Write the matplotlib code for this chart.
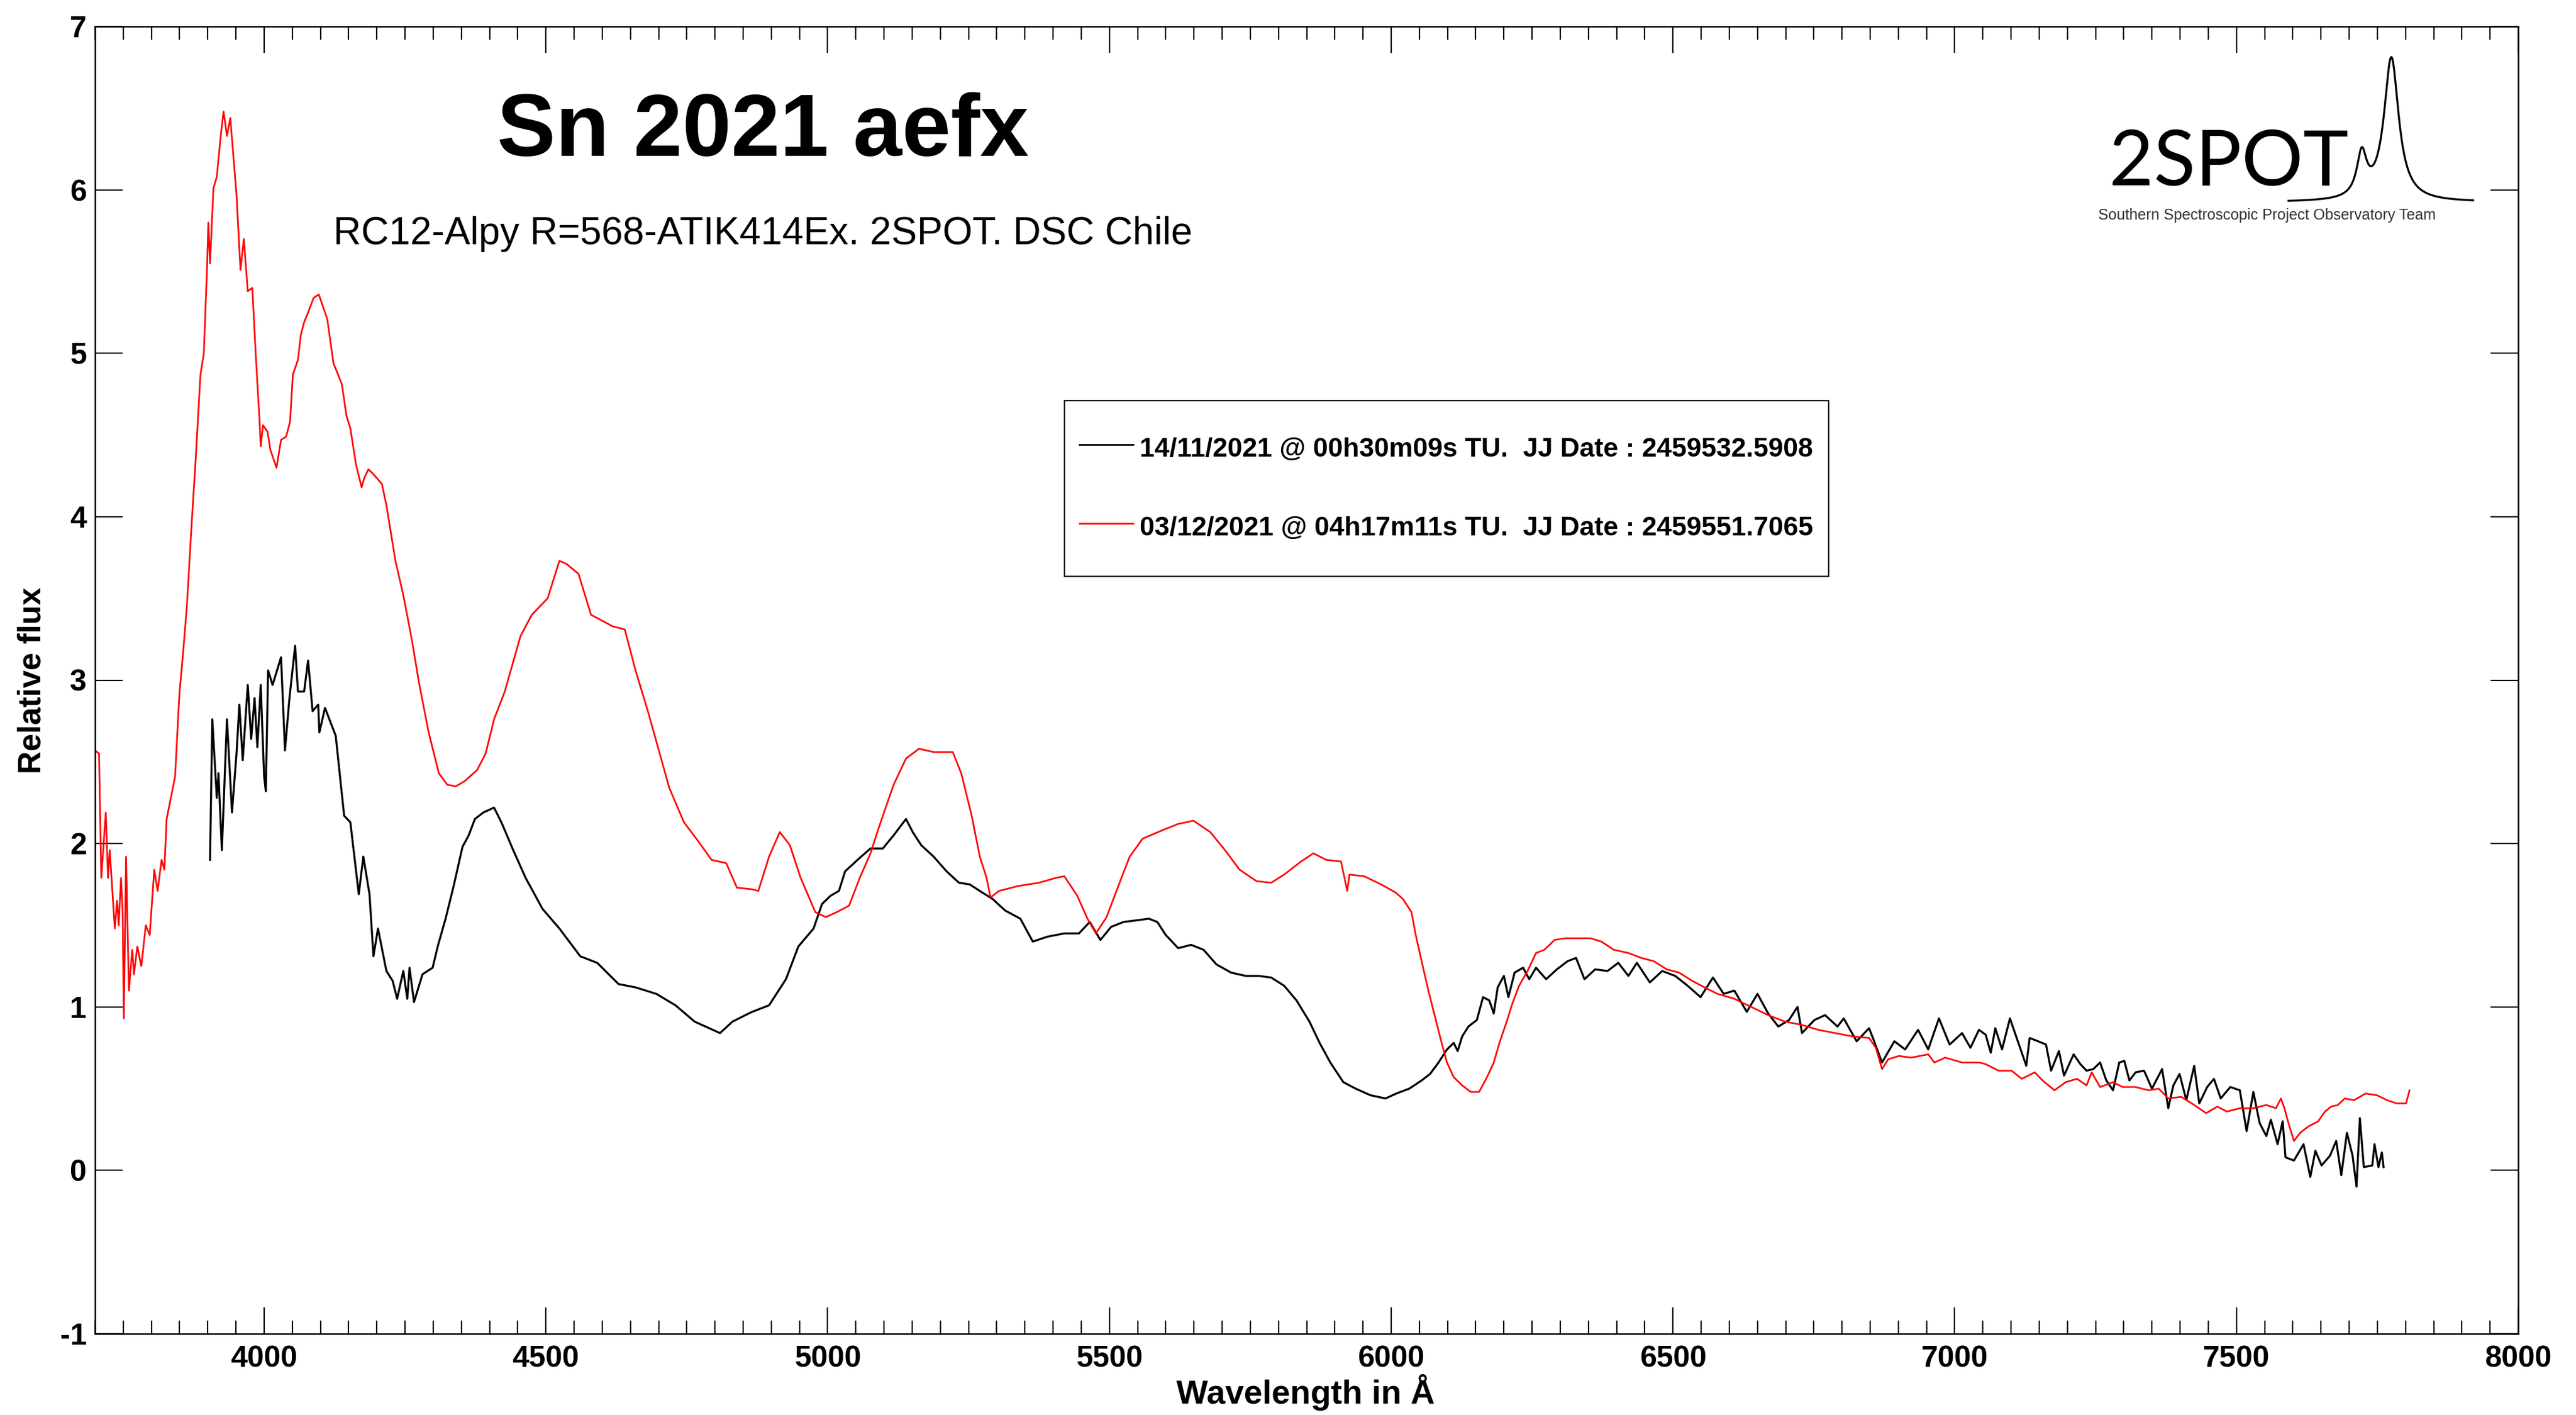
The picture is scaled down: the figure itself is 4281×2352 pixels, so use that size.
import numpy as np
import matplotlib
matplotlib.use("Agg")
import matplotlib.pyplot as plt
from matplotlib.ticker import MultipleLocator

plt.rcParams['font.family'] = 'Liberation Sans'
plt.rcParams['font.weight'] = 'bold'
plt.rcParams['axes.labelweight'] = 'bold'
plt.rcParams['axes.unicode_minus'] = False

# spectrum of 14/11/2021 (black)
wl_nov = [3904, 3908, 3916, 3919, 3925, 3934, 3943, 3951, 3956, 3962, 3971, 3977, 3983, 3988,
          3994, 4000, 4003, 4007, 4015, 4030, 4037, 4045, 4055, 4060, 4071, 4078, 4086, 4096,
          4098, 4108, 4127, 4142, 4153, 4168, 4176, 4187, 4194, 4202, 4217, 4228, 4236, 4247,
          4254, 4258, 4266, 4281, 4299, 4308, 4322, 4337, 4352, 4363, 4374, 4389, 4408, 4421,
          4442, 4464, 4494, 4524, 4561, 4591, 4629, 4659, 4696, 4730, 4764, 4809, 4831, 4854,
          4866, 4896, 4926, 4948, 4975, 4990, 5005, 5020, 5031, 5053, 5076, 5098, 5117, 5139,
          5151, 5166, 5188, 5211, 5233, 5252, 5270, 5293, 5315, 5342, 5364, 5390, 5420, 5446,
          5465, 5484, 5503, 5525, 5548, 5570, 5585, 5600, 5622, 5645, 5667, 5690, 5716, 5742,
          5765, 5787, 5810, 5832, 5855, 5873, 5892, 5915, 5937, 5963, 5990, 6009, 6032, 6054,
          6069, 6084, 6099, 6111, 6118, 6126, 6137, 6152, 6163, 6174, 6182, 6189, 6200, 6208,
          6219, 6234, 6245, 6257, 6275, 6294, 6313, 6328, 6343, 6362, 6384, 6403, 6421, 6436,
          6459, 6481, 6504, 6526, 6549, 6571, 6590, 6609, 6631, 6650, 6669, 6687, 6706, 6721,
          6729, 6751, 6770, 6792, 6803, 6826, 6848, 6856, 6871, 6893, 6912, 6935, 6953, 6972,
          6991, 7013, 7028, 7043, 7055, 7064, 7072, 7084, 7098, 7107, 7119, 7127, 7133, 7148,
          7162, 7171, 7185, 7194, 7211, 7223, 7234, 7246, 7258, 7269, 7281, 7292, 7301, 7310,
          7321, 7336, 7350, 7368, 7379, 7388, 7399, 7411, 7425, 7434, 7448, 7460, 7472, 7489,
          7506, 7518, 7530, 7541, 7553, 7561, 7573, 7582, 7587, 7602, 7619, 7631, 7640, 7651,
          7666, 7677, 7686, 7696, 7706, 7713, 7719, 7726, 7741, 7745, 7752, 7758, 7761]
flux_nov = [1.90, 2.76, 2.28, 2.43, 1.96, 2.76, 2.19, 2.55, 2.85, 2.51, 2.97, 2.64, 2.89, 2.59,
            2.97, 2.41, 2.32, 3.06, 2.97, 3.14, 2.57, 2.89, 3.21, 2.93, 2.93, 3.12, 2.81, 2.85,
            2.68, 2.83, 2.66, 2.17, 2.13, 1.69, 1.92, 1.69, 1.31, 1.48, 1.22, 1.16, 1.05, 1.22,
            1.05, 1.24, 1.03, 1.20, 1.24, 1.37, 1.54, 1.75, 1.98, 2.05, 2.15, 2.19, 2.22, 2.13,
            1.96, 1.79, 1.60, 1.48, 1.31, 1.27, 1.14, 1.12, 1.08, 1.01, 0.91, 0.84, 0.91, 0.95,
            0.97, 1.01, 1.17, 1.37, 1.48, 1.63, 1.68, 1.71, 1.83, 1.90, 1.97, 1.97, 2.05, 2.15,
            2.07, 1.99, 1.92, 1.83, 1.76, 1.75, 1.71, 1.66, 1.59, 1.54, 1.40, 1.43, 1.45, 1.45,
            1.52, 1.41, 1.49, 1.52, 1.53, 1.54, 1.52, 1.44, 1.36, 1.38, 1.35, 1.26, 1.21, 1.19,
            1.19, 1.18, 1.13, 1.04, 0.91, 0.78, 0.66, 0.54, 0.50, 0.46, 0.44, 0.47, 0.50, 0.55,
            0.59, 0.66, 0.74, 0.78, 0.73, 0.82, 0.88, 0.92, 1.06, 1.04, 0.96, 1.12, 1.19, 1.06,
            1.21, 1.24, 1.17, 1.24, 1.17, 1.23, 1.28, 1.30, 1.17, 1.23, 1.22, 1.27, 1.19, 1.27,
            1.15, 1.22, 1.19, 1.13, 1.06, 1.18, 1.08, 1.10, 0.97, 1.08, 0.96, 0.88, 0.92, 1.00,
            0.84, 0.92, 0.95, 0.88, 0.93, 0.79, 0.87, 0.80, 0.66, 0.79, 0.74, 0.86, 0.74, 0.93,
            0.77, 0.84, 0.75, 0.86, 0.83, 0.72, 0.87, 0.74, 0.93, 0.84, 0.72, 0.64, 0.81, 0.79,
            0.77, 0.61, 0.73, 0.58, 0.71, 0.65, 0.61, 0.62, 0.66, 0.55, 0.49, 0.66, 0.67, 0.55,
            0.60, 0.61, 0.50, 0.62, 0.38, 0.52, 0.59, 0.43, 0.64, 0.41, 0.51, 0.56, 0.44, 0.51,
            0.49, 0.24, 0.48, 0.29, 0.21, 0.31, 0.16, 0.30, 0.08, 0.06, 0.16, -0.04, 0.12, 0.03,
            0.09, 0.18, -0.03, 0.23, 0.09, -0.10, 0.32, 0.02, 0.03, 0.16, 0.02, 0.11, 0.02]

# spectrum of 03/12/2021 (red)
wl_dec = [3700, 3707, 3711, 3719, 3723, 3726, 3735, 3739, 3742, 3746, 3749, 3751, 3755, 3760,
          3766, 3769, 3775, 3782, 3790, 3797, 3805, 3811, 3818, 3823, 3827, 3842, 3848, 3850,
          3856, 3863, 3872, 3878, 3887, 3893, 3899, 3901, 3904, 3910, 3916, 3923, 3928, 3934,
          3940, 3951, 3958, 3964, 3971, 3979, 3985, 3992, 3994, 3998, 4006, 4011, 4015, 4022,
          4030, 4039, 4046, 4051, 4060, 4065, 4071, 4078, 4088, 4097, 4106, 4112, 4123, 4138,
          4146, 4153, 4163, 4173, 4178, 4185, 4194, 4209, 4217, 4233, 4247, 4263, 4275, 4292,
          4310, 4325, 4340, 4355, 4378, 4393, 4408, 4427, 4455, 4475, 4503, 4524, 4537, 4558,
          4580, 4618, 4640, 4659, 4681, 4719, 4745, 4767, 4794, 4820, 4839, 4866, 4877, 4896,
          4915, 4933, 4952, 4967, 4978, 4997, 5016, 5038, 5057, 5076, 5091, 5117, 5139, 5162,
          5188, 5222, 5237, 5255, 5270, 5282, 5289, 5304, 5338, 5375, 5405, 5420, 5443, 5461,
          5476, 5495, 5518, 5536, 5559, 5593, 5622, 5649, 5679, 5705, 5731, 5761, 5787, 5810,
          5840, 5862, 5885, 5911, 5922, 5926, 5952, 5982, 6008, 6021, 6036, 6043, 6054, 6066,
          6077, 6088, 6099, 6111, 6126, 6141, 6156, 6170, 6182, 6193, 6204, 6215, 6227, 6242,
          6257, 6272, 6290, 6309, 6332, 6354, 6373, 6395, 6421, 6444, 6466, 6489, 6511, 6534,
          6556, 6579, 6609, 6639, 6669, 6699, 6729, 6758, 6788, 6818, 6848, 6860, 6871, 6882,
          6901, 6923, 6953, 6964, 6983, 7013, 7043, 7055, 7078, 7101, 7119, 7142, 7156, 7177,
          7197, 7217, 7234, 7243, 7258, 7281, 7298, 7321, 7344, 7362, 7379, 7402, 7425, 7446,
          7466, 7483, 7506, 7530, 7553, 7570, 7579, 7585, 7593, 7602, 7613, 7628, 7645, 7657,
          7668, 7680, 7692, 7709, 7729, 7749, 7767, 7784, 7801, 7807]
flux_dec = [2.57, 2.55, 1.79, 2.19, 1.79, 1.96, 1.48, 1.65, 1.50, 1.79, 1.58, 0.93, 1.92, 1.10,
            1.35, 1.20, 1.37, 1.25, 1.50, 1.44, 1.84, 1.71, 1.90, 1.84, 2.15, 2.41, 2.81, 2.93,
            3.16, 3.46, 3.99, 4.32, 4.87, 5.00, 5.55, 5.80, 5.55, 6.01, 6.08, 6.33, 6.48, 6.33,
            6.44, 5.97, 5.51, 5.70, 5.38, 5.40, 5.00, 4.58, 4.43, 4.56, 4.52, 4.41, 4.37, 4.30,
            4.47, 4.49, 4.58, 4.87, 4.96, 5.11, 5.19, 5.25, 5.34, 5.36, 5.27, 5.21, 4.94, 4.81,
            4.62, 4.54, 4.32, 4.18, 4.24, 4.29, 4.26, 4.20, 4.07, 3.73, 3.52, 3.23, 2.98, 2.68,
            2.43, 2.36, 2.35, 2.38, 2.45, 2.55, 2.76, 2.93, 3.27, 3.40, 3.50, 3.73, 3.71, 3.65,
            3.40, 3.33, 3.31, 3.06, 2.81, 2.34, 2.13, 2.03, 1.90, 1.88, 1.73, 1.72, 1.71, 1.92,
            2.07, 1.99, 1.79, 1.67, 1.58, 1.55, 1.58, 1.62, 1.79, 1.94, 2.10, 2.36, 2.52, 2.58,
            2.56, 2.56, 2.43, 2.18, 1.92, 1.79, 1.67, 1.71, 1.74, 1.76, 1.79, 1.80, 1.68, 1.54,
            1.45, 1.55, 1.76, 1.92, 2.03, 2.08, 2.12, 2.14, 2.07, 1.96, 1.84, 1.77, 1.76, 1.81,
            1.89, 1.94, 1.90, 1.89, 1.71, 1.81, 1.80, 1.75, 1.70, 1.66, 1.58, 1.45, 1.28, 1.10,
            0.95, 0.80, 0.66, 0.57, 0.52, 0.48, 0.48, 0.57, 0.66, 0.79, 0.90, 1.02, 1.13, 1.22,
            1.33, 1.35, 1.41, 1.42, 1.42, 1.42, 1.40, 1.35, 1.33, 1.30, 1.28, 1.23, 1.21, 1.16,
            1.12, 1.08, 1.05, 1.00, 0.95, 0.91, 0.89, 0.86, 0.84, 0.82, 0.81, 0.75, 0.62, 0.68,
            0.70, 0.69, 0.71, 0.66, 0.69, 0.66, 0.66, 0.65, 0.61, 0.61, 0.56, 0.60, 0.55, 0.49,
            0.54, 0.56, 0.52, 0.60, 0.51, 0.54, 0.51, 0.51, 0.49, 0.50, 0.44, 0.45, 0.40, 0.35,
            0.39, 0.36, 0.38, 0.38, 0.40, 0.38, 0.44, 0.38, 0.28, 0.18, 0.23, 0.27, 0.30, 0.36,
            0.39, 0.40, 0.44, 0.43, 0.47, 0.46, 0.43, 0.41, 0.41, 0.49]

label_nov = "14/11/2021 @ 00h30m09s TU.  JJ Date : 2459532.5908"
label_dec = "03/12/2021 @ 04h17m11s TU.  JJ Date : 2459551.7065"

W, H = 4281, 2352
fig = plt.figure(figsize=(W / 100, H / 100), dpi=100)
ax = fig.add_axes([158 / W, 1 - 2217 / H, 4027 / W, 2173 / H])

ax.plot(wl_nov, flux_nov, color='black', lw=2.4, label=label_nov)
ax.plot(wl_dec, flux_dec, color='red', lw=2.0, label=label_dec)

ax.set_xlim(3700, 8000)
ax.set_ylim(-1, 7)
ax.xaxis.set_major_locator(MultipleLocator(500))
ax.xaxis.set_minor_locator(MultipleLocator(50))
ax.yaxis.set_major_locator(MultipleLocator(1))
ax.tick_params(which='both', direction='in', top=True, right=True, width=1.6)
ax.tick_params(axis='x', which='major', length=32, labelsize=36, pad=14)
ax.tick_params(axis='x', which='minor', length=16)
ax.tick_params(axis='y', which='major', length=33, labelsize=36, pad=10)
for s in ax.spines.values():
    s.set_linewidth(1.8)

ax.set_xlabel("Wavelength in Å", fontsize=40, fontweight='bold')
ax.set_ylabel("Relative flux", fontsize=38, fontweight='bold')
ax.xaxis.set_label_coords(0.4996, -0.045)
ax.xaxis.label.set_verticalalignment('center')
ax.yaxis.set_label_coords(-0.026, 0.5)
ax.yaxis.label.set_verticalalignment('center')

leg = ax.legend(loc='upper left', bbox_to_anchor=(1769 / W, 1 - 666 / H),
                bbox_transform=fig.transFigure, borderaxespad=0, fontsize=32,
                fancybox=False, edgecolor='black', framealpha=1,
                handlelength=2.0, handleheight=3.43, handletextpad=0.25,
                borderpad=0.57, labelspacing=0.48)
leg.get_frame().set_linewidth(1.6)
for line in leg.get_lines():
    line.set_linewidth(2.0)
    # sit the sample line level with the middle of its label
    line.set_ydata(np.asarray(line.get_ydata()) - 10)

fig.text(1268 / W, 1 - 259 / H, "Sn 2021 aefx", fontsize=105, ha='center', va='baseline')
fig.text(554 / W, 1 - 406 / H, "RC12-Alpy R=568-ATIK414Ex. 2SPOT. DSC Chile",
         fontsize=46, fontweight='normal', ha='left', va='baseline')

# 2SPOT logo: lettering plus a small emission-line sketch
fig.text(3505 / W, 1 - 308 / H, "2SPOT", fontsize=92, fontweight='normal', family='Lato',
         color='black', ha='left', va='baseline')
fig.text(3487 / W, 1 - 358 / H, "Southern Spectroscopic Project Observatory Team",
         fontsize=18, fontweight='normal', color='#333333', ha='left', va='center')
logo = fig.add_axes([3790 / W, 1 - 345 / H, 330 / W, 265 / H])
logo.set_axis_off()
lx = np.linspace(0.04, 0.97, 300)
ly = 0.034 + 0.9 / (1 + ((lx - 0.558) / 0.045) ** 2) + 0.27 / (1 + ((lx - 0.409) / 0.03) ** 2)
logo.plot(lx, ly, color='black', lw=2.4)
logo.set_xlim(0, 1)
logo.set_ylim(0, 1)

fig.savefig("out.png", dpi=100)
